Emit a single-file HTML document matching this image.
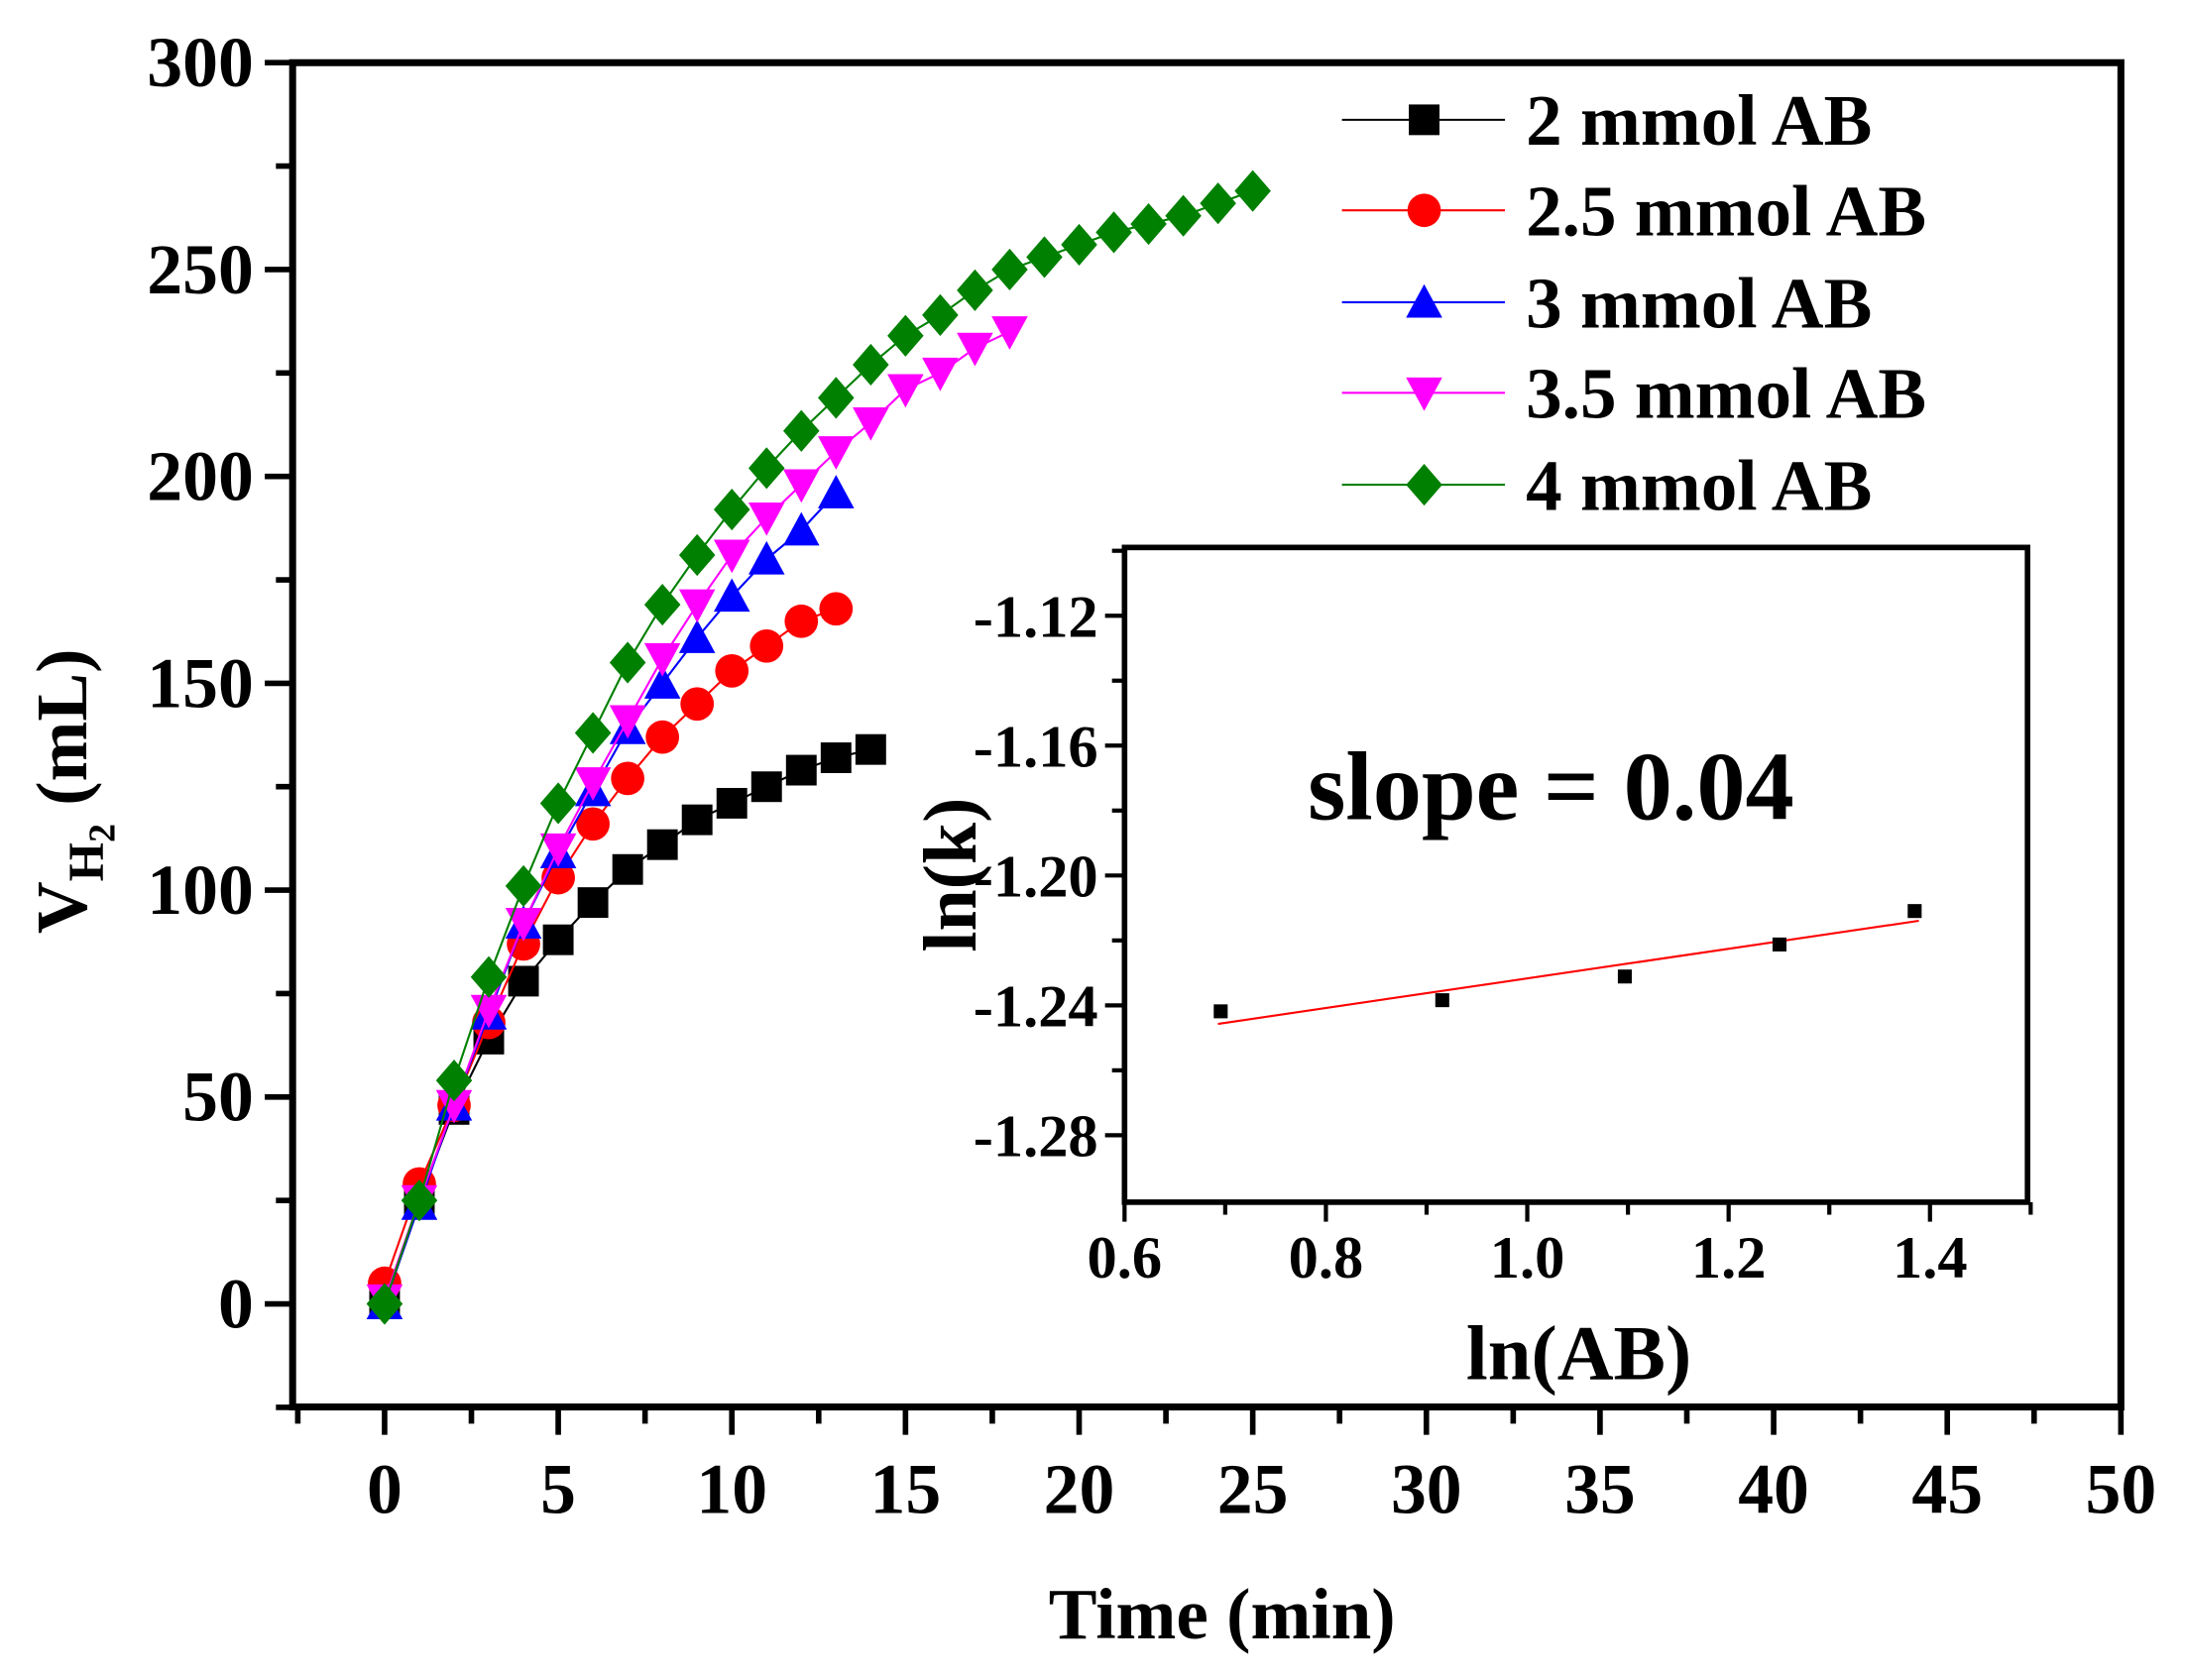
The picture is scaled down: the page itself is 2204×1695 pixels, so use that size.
<!DOCTYPE html>
<html><head><meta charset="utf-8"><style>
html,body{margin:0;padding:0;background:#fff}
svg{display:block}
text{font-family:"Liberation Serif",serif;font-weight:bold;fill:#000}
</style></head><body>
<svg id="s" xmlns="http://www.w3.org/2000/svg" width="2204" height="1695" viewBox="0 0 1568 1206" preserveAspectRatio="none">
<g id="axes"></g>
<g id="series"></g>
<g id="inset"></g>
</svg>
<script>
const NS="http://www.w3.org/2000/svg";
function el(p,t,a,txt){const e=document.createElementNS(NS,t);for(const k in a)e.setAttribute(k,a[k]);if(txt!==undefined)e.textContent=txt;p.appendChild(e);return e;}
const ax=document.getElementById('axes'),sr=document.getElementById('series'),ins=document.getElementById('inset');
const X=t=>276+t*24.92, Y=v=>936-v*2.97;
el(ax,'rect',{x:210,y:45,width:1312,height:965,fill:'none',stroke:'#000','stroke-width':5});
for(let t=-2.5;t<=50.01;t+=2.5){const maj=Math.abs(t%5)<0.01;el(ax,'line',{x1:X(t),x2:X(t),y1:1010,y2:1010+(maj?20:12),stroke:'#000','stroke-width':4});
 if(maj&&t>=0)el(ax,'text',{x:X(t),y:1086,'font-size':51,'text-anchor':'middle'},t);}
for(let v=-25;v<=300;v+=25){const maj=v%50===0;el(ax,'line',{x1:210,x2:210-(maj?20:12),y1:Y(v),y2:Y(v),stroke:'#000','stroke-width':4});
 if(maj)el(ax,'text',{x:182,y:Y(v)+17,'font-size':51,'text-anchor':'end'},v);}
el(ax,'text',{x:877,y:1176,'font-size':52,'text-anchor':'middle'},'Time (min)');
const yl=el(ax,'text',{transform:'translate(62,568) rotate(-90)','font-size':52,'text-anchor':'middle'});
yl.innerHTML='V<tspan font-size="36" dy="12">H</tspan><tspan font-size="27" dy="8">2</tspan><tspan dy="-20"> (mL)</tspan>';
function mk(g,type,x,y,c,s){s=s||11;
 if(type==='sq')el(g,'rect',{x:x-s,y:y-s,width:2*s,height:2*s,fill:c});
 else if(type==='ci')el(g,'circle',{cx:x,cy:y,r:s+1,fill:c});
 else if(type==='up')el(g,'polygon',{points:`${x},${y-s-2} ${x-s-2},${y+s} ${x+s+2},${y+s}`,fill:c});
 else if(type==='dn')el(g,'polygon',{points:`${x},${y+s+2} ${x-s-2},${y-s} ${x+s+2},${y-s}`,fill:c});
 else if(type==='di')el(g,'polygon',{points:`${x},${y-s-4} ${x+s+2},${y} ${x},${y+s+4} ${x-s-2},${y}`,fill:c});}
const S=[
 ['sq','#000',[0,25,47,64,78,88,97,105,111,117,121,125,129,132,134],'2 mmol AB'],
 ['ci','#ff0000',[5,29,48,68,87,103,116,127,137,145,153,159,165,168],'2.5 mmol AB'],
 ['up','#0000ff',[0,24,48,70,92,109,124,139,150,161,171,180,187,196],'3 mmol AB'],
 ['dn','#ff00ff',[1,25,48,71,92,110,126,141,156,169,181,190,198,206,213,221,225,231,235],'3.5 mmol AB'],
 ['di','#008000',[0,25,54,79,101,121,138,155,169,181,192,202,211,219,227,234,239,245,250,253,256,259,261,263,266,269],'4 mmol AB']];
const ly=[86,151,217,282,348];
S.forEach((s,i)=>{const g=el(sr,'g',{});
 el(g,'polyline',{points:s[2].map((v,t)=>X(t)+','+Y(v)).join(' '),fill:'none',stroke:s[1],'stroke-width':1.5});
 s[2].forEach((v,t)=>mk(g,s[0],X(t),Y(v),s[1]));
 el(g,'line',{x1:963,x2:1080,y1:ly[i],y2:ly[i],stroke:s[1],'stroke-width':1.5});
 mk(g,s[0],1022,ly[i],s[1]);
 el(g,'text',{x:1095,y:ly[i]+18,'font-size':52},s[3]);});
const IX=v=>807+(v-0.6)*722.5, IY=v=>442-(v+1.12)*2331;
el(ins,'rect',{x:807,y:393,width:648,height:470,fill:'#fff',stroke:'#000','stroke-width':4});
for(let v=0.6;v<=1.501;v+=0.1){const k=Math.round(v*10);const maj=k%2===0;el(ins,'line',{x1:IX(v),x2:IX(v),y1:863,y2:863+(maj?14:9),stroke:'#000','stroke-width':3});
 if(maj&&k<=14)el(ins,'text',{x:IX(v),y:917,'font-size':43,'text-anchor':'middle'},(k/10).toFixed(1));}
for(let i=0;i<=9;i++){const v=-1.10-i*0.02;const y=IY(v);if(y>863)break;const maj=i%2===1;
 el(ins,'line',{x1:807,x2:807-(maj?14:9),y1:y,y2:y,stroke:'#000','stroke-width':3});
 if(maj)el(ins,'text',{x:788,y:y+15,'font-size':43,'text-anchor':'end'},v.toFixed(2));}
el(ins,'line',{x1:874,y1:735,x2:1377,y2:661,stroke:'#ff0000','stroke-width':1.5});
[[876,726],[1035,718],[1166,701],[1277,678],[1374,654]].forEach(p=>el(ins,'rect',{x:p[0]-5,y:p[1]-5,width:10,height:10,fill:'#000'}));
el(ins,'text',{x:1113,y:588,'font-size':70,'text-anchor':'middle'},'slope = 0.04');
el(ins,'text',{x:1133,y:990,'font-size':56,'text-anchor':'middle'},'ln(AB)');
el(ins,'text',{transform:'translate(700,628) rotate(-90)','font-size':54,'text-anchor':'middle'},'ln(k)');
</script>
</body></html>
